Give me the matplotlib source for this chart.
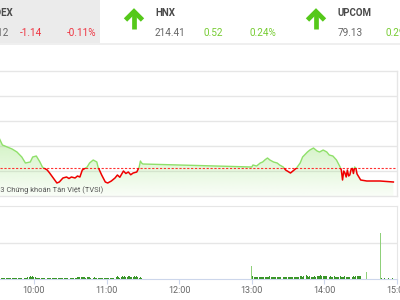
import matplotlib
matplotlib.use('Agg')
import matplotlib.pyplot as plt
import numpy as np
from matplotlib.patches import Rectangle

plt.rcParams['font.family'] = ['Roboto', 'DejaVu Sans']

# ---------------- data ----------------
ref_price = 1063.26

price_times = [
    "09:31", "09:34", "09:38", "09:42", "09:46", "09:50", "09:53", "09:57", "09:59",
    "10:02", "10:05", "10:07", "10:11", "10:13", "10:16", "10:19", "10:21", "10:24",
    "10:27", "10:29", "10:31", "10:34", "10:36", "10:38", "10:40", "10:44", "10:46",
    "10:49", "10:52", "10:53", "10:56", "10:59", "11:01", "11:04", "11:07", "11:09",
    "11:11", "11:14", "11:16", "11:18", "11:20", "11:22", "11:25", "11:27", "11:28",
    "11:29", "11:30",
    "13:00", "13:01", "13:04", "13:07", "13:09", "13:11", "13:13", "13:15", "13:18",
    "13:21", "13:23", "13:26", "13:28", "13:32", "13:34", "13:37", "13:40", "13:42",
    "13:46", "13:48", "13:51", "13:54", "13:56", "13:59", "14:02", "14:04", "14:07",
    "14:10", "14:13", "14:14", "14:15", "14:16", "14:17", "14:18", "14:19", "14:20",
    "14:21", "14:22", "14:23", "14:24", "14:25", "14:26", "14:27", "14:30", "14:35",
    "14:46", "14:57",
]
price_values = [
    1065.70, 1065.08, 1064.92, 1064.76, 1064.52, 1064.12, 1063.64, 1063.72, 1064.12,
    1064.20, 1063.72, 1063.32, 1063.08, 1062.84, 1062.44, 1062.04, 1062.12, 1062.44,
    1062.52, 1062.40, 1062.52, 1062.44, 1062.60, 1062.52, 1063.08, 1063.32, 1063.64,
    1063.88, 1063.72, 1063.32, 1062.68, 1062.12, 1062.04, 1062.20, 1062.44, 1062.68,
    1062.50, 1063.00, 1062.80, 1062.92, 1062.70, 1062.84, 1062.92, 1063.32, 1063.80,
    1063.64, 1063.56,
    1063.32, 1063.48, 1063.40, 1063.64, 1063.72, 1063.90, 1064.04, 1063.88, 1063.72,
    1063.64, 1063.48, 1063.32, 1063.08, 1062.84, 1063.00, 1063.24, 1063.64, 1064.12,
    1064.52, 1064.68, 1064.84, 1064.60, 1064.52, 1064.68, 1064.52, 1064.28, 1064.20,
    1063.88, 1063.32, 1063.08, 1062.28, 1063.00, 1062.84, 1062.52, 1063.08, 1062.60,
    1062.68, 1063.10, 1063.24, 1062.80, 1063.32, 1063.24, 1062.76, 1062.28, 1062.20,
    1062.20, 1062.12,
]

vol_morning_start = "09:31"
vol_morning = [
    0.3, 0.3, 0.3, 0.4, 0.3, 0.3, 0.3, 0.4, 0.3, 0.3,
    0.3, 0.3, 0.4, 0.3, 0.3, 0.3, 0.3, 0.3, 0.4, 0.3,
    0.3, 0.3, 0.3, 0.4, 0.5, 0.6, 0.8, 0.5, 0.9, 0.6,
    0.5, 0.4, 0.3, 0.3, 0.4, 0.3, 0.3, 0.3, 0.3, 0.4,
    0.3, 0.3, 0.3, 0.3, 0.4, 0.3, 0.3, 0.3, 0.4, 0.3,
    0.3, 0.3, 0.3, 0.4, 0.3, 0.3, 0.3, 0.3, 0.3, 0.3,
    0.3, 0.4, 0.3, 0.3, 0.4, 0.5, 0.6, 0.5, 0.5, 0.6,
    0.5, 0.5, 0.4, 0.5, 0.6, 0.5, 0.4, 0.4, 0.4, 0.5,
    0.4, 0.4, 0.3, 0.3, 0.4, 0.3, 0.4, 0.3, 0.3, 0.4,
    0.3, 0.3, 0.4, 0.3, 0.4, 0.4, 0.5, 0.6, 0.8, 0.5,
    0.4, 0.6, 0.7, 0.5, 0.8, 0.6, 0.5, 0.7, 0.9, 0.6,
    0.5, 0.6, 0.8, 0.5, 0.9, 0.6, 0.4, 0.5, 0.4,
]
vol_afternoon_start = "13:00"
vol_afternoon = [
    3.6,
    0.8, 0.6, 0.6, 0.5, 0.6, 0.5, 0.6, 0.5, 0.5, 0.5,
    0.5, 0.6, 0.5, 0.5, 0.7, 0.5, 0.5, 0.5, 0.5, 0.5,
    0.5, 0.5, 0.5, 0.6, 0.5, 0.5, 0.5, 0.6, 0.5, 0.5,
    0.5, 0.6, 0.5, 0.5, 0.6, 0.5, 0.6, 0.5, 0.6, 0.7,
    0.8, 0.6, 0.9, 0.7, 1.0, 0.7, 0.6, 0.8, 0.6, 0.6,
    0.6, 0.7, 0.6, 0.7, 0.8, 0.9, 1.1, 0.8, 0.7, 0.9,
    0.8, 0.7, 0.6, 0.6, 0.7, 0.6, 0.6, 0.7, 0.6, 0.6,
    0.6, 0.6, 0.7, 0.6, 0.6, 0.6, 0.7, 0.6, 0.6, 0.6,
    0.6, 0.7, 0.6, 0.8, 0.6, 0.7, 0.9, 0.7, 0.8, 0.9,
]
vol_late_times = ["14:35", "14:46", "14:47", "14:50", "14:53", "14:56"]
vol_late = [1.9, 12.6, 0.3, 0.2, 0.2, 0.2]

hour_labels = ["10:00", "11:00", "12:00", "13:00", "14:00", "15:00"]

header_names = ["VN-INDEX", "HNX", "UPCOM"]
header_values = ["1,062.12", "214.41", "79.13"]
header_changes = ["-1.14", "0.52", "0.29"]
header_pcts = ["-0.11%", "0.24%", "0.29%"]

watermark = "© 2023 Chứng khoán Tân Việt (TVSI)"


def to_min(s):
    h, m = s.split(":")
    return int(h) * 60 + int(m)


# ---------------- figure ----------------
W, H = 400, 300
fig = plt.figure(figsize=(4, 3), dpi=100)
fig.patch.set_facecolor("white")

X0, X1 = 572, 900
GREEN_LINE = "#8fe06a"
RED_LINE = "#f00000"
GRID = "#e6e6e6"

# price chart
ax = fig.add_axes([0, 1 - 196 / H, 397 / W, (196 - 71) / H])
t = np.array([to_min(s) for s in price_times], dtype=float)
v = np.array(price_values)
ax.set_xlim(X0, X1)
ax.set_ylim(1061, 1071)
ax.set_yticks([1063, 1065, 1067, 1069])
ax.yaxis.grid(True, color=GRID, lw=1.0)
ax.set_axisbelow(True)
ax.tick_params(left=False, labelleft=False, bottom=False, labelbottom=False)
ax.set_xticks([])
for s in ["top", "right", "bottom"]:
    ax.spines[s].set_color(GRID)
    ax.spines[s].set_linewidth(1.0)
ax.spines["left"].set_visible(False)

# gradient fill under the line
poly = ax.fill_between(t, v, 1061, color="none", lw=0)
path = poly.get_paths()[0]
n = 256
alpha = np.linspace(0.05, 0.42, n)[:, None]
rgba = np.zeros((n, 1, 4))
rgba[..., 0] = 142 / 255
rgba[..., 1] = 224 / 255
rgba[..., 2] = 106 / 255
rgba[..., 3] = alpha
img = ax.imshow(rgba, extent=[X0, X1, 1061, 1065.8], origin="lower",
                aspect="auto", interpolation="bilinear", zorder=1)
img.set_clip_path(path, ax.transData)
ax.set_xlim(X0, X1)
ax.set_ylim(1061, 1071)

# reference line
ax.axhline(ref_price, color="#ff3030", lw=0.8, ls=(0, (2.0, 1.5)), zorder=2)

ln_g, = ax.plot(t, v, color=GREEN_LINE, lw=1.0, zorder=3)
ln_g.set_clip_path(Rectangle((X0 - 50, ref_price), 500, 20, transform=ax.transData))
ln_r, = ax.plot(t, v, color=RED_LINE, lw=1.1, zorder=3)
ln_r.set_clip_path(Rectangle((X0 - 50, 1040), 500, ref_price - 1040, transform=ax.transData))

# volume chart
vax = fig.add_axes([0, 1 - 279 / H, 397 / W, (279 - 206) / H])
vt = [to_min(vol_morning_start) + i for i in range(len(vol_morning))]
vt += [to_min(vol_afternoon_start) + i for i in range(len(vol_afternoon))]
vt += [to_min(s) for s in vol_late_times]
vv = vol_morning + vol_afternoon + vol_late
vcol = ["#8fd07a" if x > 1.5 else "#3a962a" for x in vv]
vax.bar(vt, vv, width=0.8, color=vcol, lw=0, zorder=3)
vax.set_xlim(X0, X1)
vax.set_ylim(0, 20)
vax.set_yticks([10])
vax.yaxis.grid(True, color=GRID, lw=1.0)
vax.tick_params(left=False, labelleft=False)
vax.set_xticks([to_min(s) for s in hour_labels])
vax.set_xticklabels(hour_labels)
vax.tick_params(axis="x", length=3.6, width=0.8, color="#ccd6eb",
                labelcolor="#666666", labelsize=6.5, pad=1.5)
for s in ["top", "right"]:
    vax.spines[s].set_color(GRID)
vax.spines["bottom"].set_color("#ccd6eb")
vax.spines["left"].set_visible(False)

# header / overlay in pixel coordinates
hdr = fig.add_axes([0, 0, 1, 1], zorder=5)
hdr.set_xlim(0, W)
hdr.set_ylim(H, 0)
hdr.axis("off")
hdr.patch.set_alpha(0)
hdr.add_patch(Rectangle((0, 0), 100, 43, color="#ebebeb", lw=0))
hdr.plot([0, W], [44, 44], color="#efefef", lw=1.4)

LABEL = "#4a4a4a"
VALUE = "#666666"
UP = "#77cc33"
DOWN = "#ee3340"
fs_lab = 7.0
fs_val = 7.2

# VN-INDEX (cropped on the left)
hdr.text(13.5, 13, header_names[0], ha="right", va="center", fontsize=fs_lab,
         fontweight="bold", color=LABEL)
hdr.text(8.5, 32.5, header_values[0], ha="right", va="center", fontsize=fs_val, color=VALUE)
hdr.text(20, 32.5, header_changes[0], ha="left", va="center", fontsize=fs_val, color=DOWN)
hdr.text(67, 32.5, header_pcts[0], ha="left", va="center", fontsize=fs_val, color=DOWN)

# HNX / UPCOM
for name, val, ch, pc, xa, xl, xc, xp in [
    (header_names[1], header_values[1], header_changes[1], header_pcts[1], 134, 155, 203, 250),
    (header_names[2], header_values[2], header_changes[2], header_pcts[2], 316, 338, 385, 432),
]:
    hdr.plot([xa - 8.5, xa, xa + 8.5], [20, 11.5, 20], color="#55c81a", lw=3.4,
             solid_joinstyle="miter", solid_capstyle="butt")
    hdr.plot([xa, xa], [13, 28.5], color="#55c81a", lw=3.4, solid_capstyle="butt")
    hdr.text(xl, 13, name, ha="left", va="center", fontsize=fs_lab,
             fontweight="bold", color=LABEL)
    hdr.text(xl, 32.5, val, ha="left", va="center", fontsize=fs_val, color=VALUE)
    hdr.text(xc, 32.5, ch, ha="left", va="center", fontsize=fs_val, color=UP)
    hdr.text(xp, 32.5, pc, ha="left", va="center", fontsize=fs_val, color=UP)

hdr.text(103.5, 190.5, watermark, ha="right", va="center", fontsize=5.4, color="#555555")

fig.savefig("out.png", dpi=100)
